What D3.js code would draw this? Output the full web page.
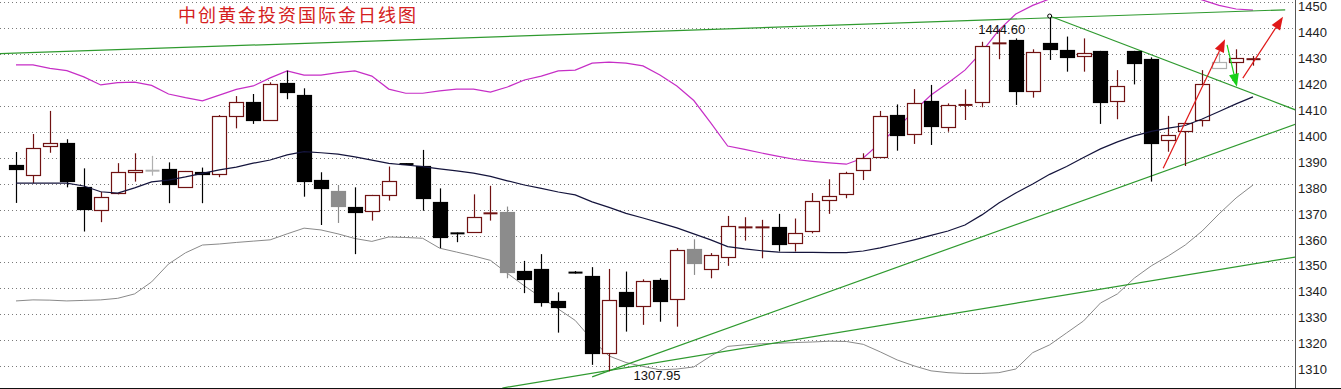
<!DOCTYPE html>
<html>
<head>
<meta charset="utf-8">
<script src="https://cdn.jsdelivr.net/npm/d3@7"></script>
<style>
  body { margin: 0; background: #fff; }
  svg { display: block; }
</style>
</head>
<body>
<div id="wrapper"></div>
<script>
// daily gold candles (index 0 = leftmost bar)
const opens = [1387.3,1383.5,1394.6,1395.6,1378.7,1370.0,1376.8,1384.5,1385.1,1385.6,1378.7,1384.5,1383.8,1405.9,1411.4,1404.6,1418.7,1414.2,1381.5,1377.4,
  1371.0,1369.7,1375.8,1387.8,1386.9,1373.0,1361.2,1361.3,1368.5,1369.1,1346.5,1347.3,1335.0,1346.0,1344.6,1314.9,1338.6,1333.2,1343.1,1335.7,
  1354.9,1347.2,1352.0,1363.2,1363.2,1363.3,1357.6,1362.0,1373.8,1376.2,1385.1,1390.3,1406.5,1399.1,1411.9,1401.8,1410.3,1411.4,1434.0,1435.4,
  1415.5,1434.1,1431.5,1429.3,1431.2,1411.9,1431.2,1428.1,1396.7,1400.5,1404.4,1424.5,1427.0,1427.9];
const highs = [1392.3,1399.2,1408.1,1397.2,1386.0,1377.0,1388.0,1391.8,1390.8,1388.3,1385.0,1386.3,1406.5,1413.8,1414.6,1419.1,1423.6,1416.8,1384.5,1379.6,
  1378.7,1375.8,1386.7,1388.0,1393.1,1378.3,1361.3,1376.0,1379.3,1371.3,1350.4,1353.0,1338.3,1346.5,1348.0,1347.3,1346.3,1343.3,1343.7,1355.3,
  1358.7,1353.4,1367.7,1367.2,1366.2,1368.5,1366.7,1376.5,1381.8,1384.7,1391.8,1408.1,1410.6,1416.5,1418.1,1411.0,1416.4,1434.7,1439.5,1436.0,
  1431.8,1444.6,1436.7,1436.0,1431.2,1423.8,1431.2,1428.7,1406.2,1403.6,1423.8,1430.3,1431.8,1429.2];
const lows = [1372.7,1380.3,1392.0,1378.7,1361.7,1365.3,1376.0,1380.9,1383.2,1372.6,1378.7,1372.6,1382.6,1401.4,1403.1,1404.4,1412.6,1375.1,1364.2,1365.0,
  1353.0,1365.9,1373.6,1387.4,1369.7,1355.3,1357.6,1361.3,1365.9,1343.7,1338.0,1332.8,1322.8,1345.5,1310.4,1307.95,1323.2,1325.8,1327.0,1325.1,
  1345.0,1343.7,1348.5,1358.2,1351.4,1354.0,1354.0,1361.0,1368.5,1374.5,1381.5,1390.3,1392.8,1395.4,1395.0,1400.1,1404.6,1409.5,1428.0,1410.4,
  1413.2,1427.7,1423.2,1423.2,1403.1,1404.9,1418.3,1380.9,1392.4,1386.9,1402.1,1424.5,1422.3,1425.5];
const closes = [1385.8,1393.7,1395.6,1380.9,1370.3,1374.9,1384.7,1385.4,1385.1,1379.9,1385.0,1383.7,1406.2,1411.4,1404.4,1418.3,1415.1,1381.2,1378.6,1371.5,
  1369.0,1375.8,1381.2,1387.5,1374.5,1359.7,1360.8,1367.2,1368.9,1346.0,1343.3,1334.7,1332.6,1345.8,1314.9,1335.4,1333.2,1342.7,1335.1,1354.6,
  1349.5,1352.7,1363.8,1363.4,1363.4,1356.8,1361.3,1373.6,1375.5,1384.1,1389.9,1406.2,1398.8,1411.0,1402.4,1410.3,1410.5,1433.1,1434.2,1415.9,
  1430.6,1431.9,1428.7,1430.5,1411.7,1417.7,1426.4,1395.9,1398.8,1403.6,1418.3,1426.8,1428.6,1428.1];
// bars drawn in grey on the original
const greyBars = [8, 19, 29, 40, 71];

// middle line and bands
const maMid = [1380.3,1380.3,1380.3,1380.3,1379.2,1377.0,1376.5,1378.5,1380.8,1381.5,1382.7,1384.1,1385.4,1386.5,1388.0,1389.2,1391.2,1392.4,1392.0,1391.5,
  1390.4,1389.2,1387.9,1387.3,1386.7,1385.8,1385.0,1384.2,1382.9,1381.2,1379.6,1378.3,1376.9,1375.8,1373.1,1371.0,1368.7,1366.9,1365.0,1363.1,
  1360.8,1358.5,1355.9,1355.0,1354.3,1353.8,1353.7,1353.7,1353.6,1353.6,1354.2,1355.4,1356.9,1358.5,1360.2,1361.9,1364.2,1368.1,1372.7,1376.5,
  1380.0,1383.7,1386.7,1390.2,1393.5,1396.2,1398.5,1400.2,1401.5,1402.5,1405.0,1407.9,1410.8,1413.5];
const bandUpper = [1425.8,1425.8,1424.5,1423.6,1421.2,1418.1,1419.0,1419.2,1417.9,1414.6,1413.2,1412.0,1414.2,1416.4,1417.7,1420.8,1423.5,1421.9,1421.9,1422.8,
  1423.5,1421.5,1416.5,1414.9,1414.9,1415.8,1416.5,1416.5,1415.3,1417.3,1420.0,1421.5,1423.5,1423.8,1426.5,1426.9,1426.5,1425.4,1421.9,1417.7,
  1412.1,1403.5,1394.6,1393.3,1391.9,1390.6,1389.4,1388.7,1388.1,1387.6,1390.0,1395.8,1401.5,1408.1,1414.2,1418.8,1423.8,1430.8,1439.2,1445.4,
  1448.7,1451.2,1455.0,1458.0,1460.0,1461.0,1461.0,1459.0,1456.0,1453.0,1450.8,1448.7,1447.3,1446.9];
const bandLower = [1335.0,1335.4,1335.3,1335.0,1335.2,1335.4,1336.0,1337.7,1342.3,1349.2,1353.5,1356.5,1356.9,1357.5,1358.0,1358.5,1360.8,1363.0,1362.3,1360.8,
  1359.0,1357.9,1359.6,1359.4,1359.1,1355.3,1353.8,1352.3,1350.6,1345.6,1340.8,1336.3,1331.9,1327.5,1320.0,1313.8,1311.3,1309.8,1308.5,1308.8,
  1309.6,1313.8,1317.5,1318.1,1318.5,1318.7,1319.0,1319.2,1319.5,1319.4,1318.3,1315.4,1312.3,1310.0,1308.1,1307.4,1307.1,1307.1,1307.4,1308.8,
  1315.1,1318.1,1322.7,1327.3,1334.2,1337.7,1343.8,1348.5,1352.3,1356.5,1361.9,1368.5,1374.6,1379.6];

// hand-drawn trend lines [bar index, price]
const trendLines = [
  [[-0.95, 1430.1], [74.9, 1447.0]],
  [[61, 1444.6], [75.5, 1408.5]],
  [[34, 1305.8], [75.5, 1403.0]],
  [[28.7, 1301.5], [75.5, 1351.9]]
];
// arrows [from, to, colour]
const arrows = [
  [[67.7, 1386.0], [71.35, 1435.7], "#e01818"],
  [[71.47, 1433.5], [72.05, 1417.4], "#18d018"],
  [[72.4, 1420.7], [74.77, 1444.3], "#e01818"]
];
const priceTicks = d3.range(1310, 1451, 10);
const title = "中创黄金投资国际金日线图";
const highLabel = "1444.60", lowLabel = "1307.95";

const width = 1341, height = 389;
const plotRight = 1295, plotBottom = 388;

const x = d3.scaleLinear().domain([0, 73]).range([16, 1253]);
const y = d3.scaleLinear().domain([1301.5, 1450.77]).range([plotBottom, 0]);

const svg = d3.select("#wrapper").append("svg")
  .attr("width", width)
  .attr("height", height)
  .style("font-family", "'Liberation Sans', Arial, sans-serif");

svg.append("defs").append("clipPath").attr("id", "plot")
  .append("rect").attr("x", 0).attr("y", 0).attr("width", plotRight).attr("height", plotBottom);

// dotted grid
svg.append("g")
  .selectAll("line")
  .data(priceTicks)
  .join("line")
    .attr("x1", 0).attr("x2", plotRight)
    .attr("y1", d => Math.round(y(d)) + 0.5).attr("y2", d => Math.round(y(d)) + 0.5)
    .attr("stroke", "#7a7a7a")
    .attr("stroke-dasharray", "1,3");

// right axis, labels only
const axis = svg.append("g").attr("transform", `translate(${plotRight},0)`)
  .call(d3.axisRight(y).tickValues(priceTicks).tickFormat(d3.format("d")).tickSize(0).tickPadding(3));
axis.select(".domain").remove();
axis.selectAll("text")
  .attr("dy", "0.62em")
  .attr("fill", "#222")
  .style("font-size", "13px")
  .style("font-family", "'Liberation Sans', Arial, sans-serif");

svg.append("line")
  .attr("x1", plotRight + 0.5).attr("x2", plotRight + 0.5)
  .attr("y1", 0).attr("y2", plotBottom)
  .attr("stroke", "#555");
svg.append("line")
  .attr("x1", 0).attr("x2", width)
  .attr("y1", plotBottom + 0.5).attr("y2", plotBottom + 0.5)
  .attr("stroke", "#111");

const plot = svg.append("g").attr("clip-path", "url(#plot)");

const line = d3.line().x((d, i) => x(i)).y(d => y(d));
plot.append("path").datum(bandLower).attr("d", line)
  .attr("fill", "none").attr("stroke", "#8a8a8a").attr("stroke-width", 1);
plot.append("path").datum(bandUpper).attr("d", line)
  .attr("fill", "none").attr("stroke", "#c62ec6").attr("stroke-width", 1.2);

// trend lines go under candles
const tl = d3.line().x(d => x(d[0])).y(d => y(d[1]));
plot.append("g").selectAll("path")
  .data(trendLines)
  .join("path")
    .attr("d", tl)
    .attr("fill", "none")
    .attr("stroke", "#2f9a2f")
    .attr("stroke-width", 1.2);

// candles
const bars = d3.range(opens.length).map(i => ({
  i, o: opens[i], h: highs[i], l: lows[i], c: closes[i], grey: greyBars.includes(i)
}));
const bw = 14;
const bull = "#701212";

const candle = plot.append("g").selectAll("g")
  .data(bars)
  .join("g")
    .attr("transform", d => `translate(${Math.round(x(d.i)) + 0.5},0)`);

const strokeOf = d => d.grey ? (d.c >= d.o ? "#b0b0b0" : "#8c8c8c") : (d.c >= d.o ? bull : "#000");

candle.append("line")
  .attr("y1", d => y(d.h)).attr("y2", d => y(d.l))
  .attr("stroke", strokeOf)
  .attr("stroke-width", 1.2);

const isDoji = d => Math.abs(y(d.o) - y(d.c)) < 2;

candle.filter(d => !isDoji(d)).append("rect")
  .attr("x", -bw / 2)
  .attr("y", d => Math.round(y(Math.max(d.o, d.c))) + 0.5)
  .attr("width", bw)
  .attr("height", d => Math.round(Math.abs(y(d.o) - y(d.c))))
  .attr("fill", d => d.c >= d.o ? "#fff" : (d.grey ? "#8c8c8c" : "#000"))
  .attr("stroke", strokeOf)
  .attr("stroke-width", 1.2);

candle.filter(d => isDoji(d)).append("line")
  .attr("x1", -bw / 2).attr("x2", bw / 2)
  .attr("y1", d => y((d.o + d.c) / 2)).attr("y2", d => y((d.o + d.c) / 2))
  .attr("stroke", strokeOf)
  .attr("stroke-width", 2);

// moving average over the candles
plot.append("path").datum(maMid).attr("d", line)
  .attr("fill", "none").attr("stroke", "#14143c").attr("stroke-width", 1.2);

// small marker at the top pivot
plot.append("circle")
  .attr("cx", x(61)).attr("cy", y(1444.6)).attr("r", 2)
  .attr("fill", "#fff").attr("stroke", "#000");

// arrows
arrows.forEach(([a, b, col]) => {
  const x0 = x(a[0]), y0 = y(a[1]), x1 = x(b[0]), y1 = y(b[1]);
  const ang = Math.atan2(y1 - y0, x1 - x0);
  const len = 13, half = 5;
  const bx = x1 - len * Math.cos(ang), by = y1 - len * Math.sin(ang);
  plot.append("line")
    .attr("x1", x0).attr("y1", y0).attr("x2", bx).attr("y2", by)
    .attr("stroke", col).attr("stroke-width", 1.2);
  const px = -Math.sin(ang) * half, py = Math.cos(ang) * half;
  plot.append("path")
    .attr("d", `M${x1},${y1}L${bx + px},${by + py}L${bx - px},${by - py}Z`)
    .attr("fill", col);
});

// labels
svg.append("text")
  .attr("x", 178).attr("y", 22)
  .attr("fill", "#d42020")
  .style("font-family", "'Noto Sans CJK SC', sans-serif")
  .style("font-size", "18px")
  .style("letter-spacing", "2px")
  .text(title);

svg.append("text")
  .attr("x", x(61) - 48).attr("y", y(1444.6) + 18)
  .attr("text-anchor", "middle")
  .attr("fill", "#111")
  .style("font-size", "13px")
  .text(highLabel);

svg.append("text")
  .attr("x", x(35) + 48).attr("y", y(1307.95) + 9)
  .attr("text-anchor", "middle")
  .attr("fill", "#111")
  .style("font-size", "13px")
  .text(lowLabel);
</script>
</body>
</html>
